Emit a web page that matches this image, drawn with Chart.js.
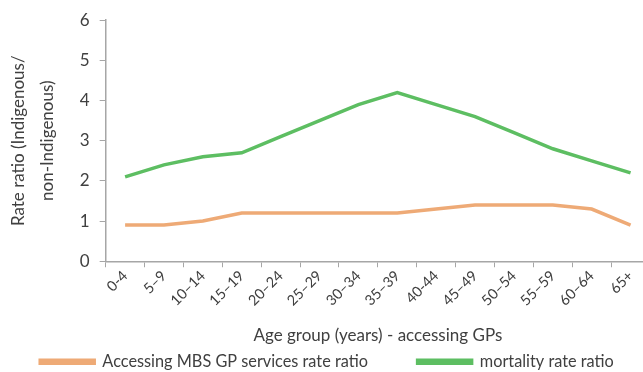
<!DOCTYPE html>
<html>
<head>
<meta charset="utf-8">
<script src="https://cdn.jsdelivr.net/npm/chart.js@4/dist/chart.umd.min.js"></script>
<style>
  html, body { margin: 0; padding: 0; background: #fff; overflow: hidden; }
  #wrap { width: 658px; height: 372px; }
</style>
</head>
<body>
<div id="wrap"><canvas id="grafico" width="658" height="372"></canvas></div>
<script>
const grupos = ["0-4", "5–9", "10–14", "15–19", "20–24", "25–29", "30–34", "35–39", "40-44", "45–49", "50–54", "55–59", "60–64", "65+"];
const accesoGP = [0.9, 0.9, 1.0, 1.2, 1.2, 1.2, 1.2, 1.2, 1.3, 1.4, 1.4, 1.4, 1.3, 0.9];
const mortalidad = [2.1, 2.4, 2.6, 2.7, 3.1, 3.5, 3.9, 4.2, 3.9, 3.6, 3.2, 2.8, 2.5, 2.2];
const ticksY = [0, 1, 2, 3, 4, 5, 6];

const fuente = "Lato, 'Open Sans', sans-serif";
const gris = "#404040";
const ejeColor = "#a6a6a6";

const ctx = document.getElementById("grafico").getContext("2d");
new Chart(ctx, {
  type: "line",
  data: {
    labels: grupos,
    datasets: [
      {
        label: "Accessing MBS GP services rate ratio",
        data: accesoGP,
        borderColor: "#eeaa76",
        backgroundColor: "#eeaa76",
        borderWidth: 3.5,
        pointRadius: 0,
        tension: 0,
      },
      {
        label: "mortality rate ratio",
        data: mortalidad,
        borderColor: "#5dbe62",
        backgroundColor: "#5dbe62",
        borderWidth: 3.5,
        pointRadius: 0,
        tension: 0,
      },
    ],
  },
  options: {
    responsive: false,
    animation: false,
    layout: { padding: { top: 8, left: 4, right: 8, bottom: -8 } },
    plugins: {
      tooltip: { enabled: false },
      legend: {
        position: "bottom",
        labels: {
          boxWidth: 54,
          boxHeight: 3,
          padding: 8,
          color: gris,
          font: { family: fuente, size: 16.3 },
          generateLabels: (chart) => {
            const items = Chart.defaults.plugins.legend.labels.generateLabels(chart);
            items[0].text += "          "; // más espacio entre las dos entradas
            return items;
          },
        },
      },
    },
    scales: {
      x: {
        offset: true,
        grid: { display: true, drawOnChartArea: false, color: ejeColor, tickLength: 6, offset: true },
        border: { color: ejeColor, width: 1.5 },
        ticks: { color: gris, font: { family: fuente, size: 14.5 }, minRotation: 45, maxRotation: 45, padding: 0 },
        title: {
          display: true,
          text: "Age group (years) - accessing GPs",
          color: gris,
          font: { family: fuente, size: 17 },
          padding: { top: 16, bottom: 0 },
        },
      },
      y: {
        min: 0,
        max: 6,
        afterBuildTicks: (eje) => { eje.ticks = ticksY.map((v) => ({ value: v })); },
        grid: { display: true, drawOnChartArea: false, color: ejeColor, tickLength: 6 },
        border: { color: ejeColor, width: 1.5 },
        ticks: { color: gris, font: { family: fuente, size: 17 }, padding: 10 },
        title: {
          display: true,
          text: ["Rate ratio (Indigenous/", "non-Indigenous)"],
          color: gris,
          font: { family: fuente, size: 17, lineHeight: 1.7 },
          padding: { top: 0, bottom: 8 },
        },
      },
    },
  },
});
</script>
</body>
</html>
